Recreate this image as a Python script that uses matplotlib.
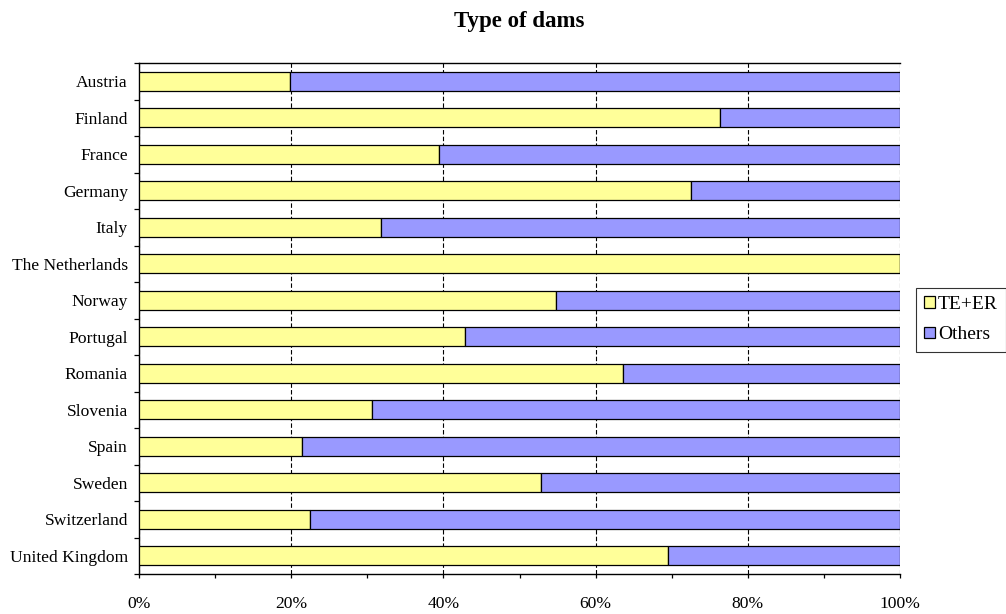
import matplotlib
matplotlib.use("Agg")
import matplotlib.pyplot as plt
import numpy as np
from matplotlib.ticker import MultipleLocator, FuncFormatter

countries = ["Austria", "Finland", "France", "Germany", "Italy", "The Netherlands",
             "Norway", "Portugal", "Romania", "Slovenia", "Spain", "Sweden",
             "Switzerland", "United Kingdom"]
te_er = [19.8, 76.3, 39.4, 72.5, 31.8, 100.0, 54.8, 42.8, 63.6, 30.6, 21.4, 52.8, 22.5, 69.5]
others = [100 - v for v in te_er]
x_ticks = [0, 20, 40, 60, 80, 100]

plt.rcParams["font.family"] = ["Liberation Serif", "DejaVu Serif"]

fig = plt.figure(figsize=(10.06, 6.14), dpi=100)
ax = fig.add_axes([139 / 1006, 1 - 574 / 614, (900 - 139) / 1006, (574 - 63) / 614])

y = np.arange(len(countries))
h = 0.52
ax.barh(y, te_er, height=h, color="#FFFF99", edgecolor="black", linewidth=0.9,
        label="TE+ER", zorder=3)
ax.barh(y, others, left=te_er, height=h, color="#9999FF", edgecolor="black",
        linewidth=0.9, label="Others", zorder=3)

ax.set_xlim(0, 100)
ax.set_ylim(len(countries) - 0.5, -0.5)

ax.set_xticks(x_ticks)
ax.xaxis.set_minor_locator(MultipleLocator(10))
ax.xaxis.set_major_formatter(FuncFormatter(lambda v, p: f"{int(v)}%"))
ax.tick_params(axis="x", which="both", direction="out", length=3, width=0.9,
               labelsize=12.6, pad=13)

ax.set_yticks(y)
ax.set_yticklabels(countries)
ax.set_yticks(np.arange(-0.5, len(countries), 1.0), minor=True)
ax.tick_params(axis="y", which="major", length=0, labelsize=12.6, pad=8)
ax.tick_params(axis="y", which="minor", direction="out", length=3.6, width=0.9)

ax.grid(axis="x", which="major", color="black", linestyle=(0, (4, 2)),
        linewidth=0.8, zorder=1)

for side in ["left", "bottom", "top"]:
    ax.spines[side].set_linewidth(1.0)
ax.spines["right"].set_visible(False)

fig.text(519.5 / 1006, 1 - 22 / 614, "Type of dams", fontsize=16.5,
         fontweight="bold", ha="center", va="center")

leg = fig.legend(loc="upper left", bbox_to_anchor=(916 / 1006, 1 - 288 / 614),
                 frameon=True, fancybox=False, edgecolor="black", fontsize=14,
                 handlelength=0.55, handleheight=0.55, handletextpad=0.15,
                 borderpad=0.42, labelspacing=0.68, borderaxespad=0)
leg.get_frame().set_linewidth(0.8)

fig.savefig("out.png", dpi=100)
